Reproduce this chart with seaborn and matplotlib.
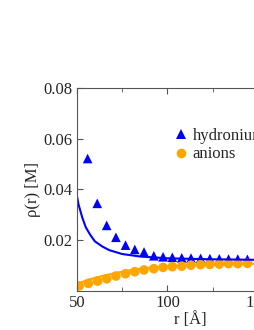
import matplotlib
matplotlib.use("Agg")
import matplotlib.pyplot as plt
import seaborn as sns
import pandas as pd
from matplotlib.ticker import MultipleLocator

# simulation points
r_hyd = [56.0, 61.3, 66.5, 71.6, 76.9, 82.0, 87.1, 92.5, 97.6, 102.7, 107.9,
         113.0, 118.3, 123.4, 128.6, 133.7, 138.8, 144.1]
rho_hyd = [0.0522, 0.0345, 0.0258, 0.0211, 0.0180, 0.0163, 0.0153, 0.0138,
           0.0134, 0.0132, 0.0130, 0.0129, 0.0128, 0.0127, 0.0126, 0.0125,
           0.0125, 0.0124]
r_ani = [51.3, 56.4, 61.5, 66.5, 71.6, 76.9, 82.0, 87.1, 92.5, 97.6, 102.7,
         107.9, 113.0, 118.3, 123.4, 128.6, 133.7, 138.8, 144.1]
rho_ani = [0.0019, 0.0029, 0.0038, 0.0047, 0.0058, 0.0067, 0.0075, 0.0082,
           0.0087, 0.0092, 0.0095, 0.0097, 0.0101, 0.0103, 0.0104, 0.0105,
           0.0107, 0.0107, 0.0108]

# theory curves
r_fit_hyd = [50, 51, 53, 55, 57.5, 60, 64, 68, 75, 85, 100, 125, 150, 175]
rho_fit_hyd = [0.0378, 0.0340, 0.0290, 0.0250, 0.0220, 0.0195, 0.0175, 0.0160,
               0.0145, 0.0135, 0.0128, 0.0124, 0.0122, 0.0121]
r_fit_ani = [50, 55, 60, 67, 76, 85, 100, 112, 125, 150, 175]
rho_fit_ani = [0.0027, 0.0040, 0.0051, 0.0063, 0.0077, 0.0087, 0.0097, 0.0101,
               0.0104, 0.0107, 0.0109]

pts = pd.concat([
    pd.DataFrame({'r': r_hyd, 'rho': rho_hyd, 'ion': 'hydronium'}),
    pd.DataFrame({'r': r_ani, 'rho': rho_ani, 'ion': 'anions'}),
])
fits = pd.concat([
    pd.DataFrame({'r': r_fit_hyd, 'rho': rho_fit_hyd, 'ion': 'hydronium'}),
    pd.DataFrame({'r': r_fit_ani, 'rho': rho_fit_ani, 'ion': 'anions'}),
])

sns.set_style("ticks")
plt.rcParams['font.family'] = ['Liberation Serif', 'DejaVu Serif']

pal = {'hydronium': '#0000ff', 'anions': '#ffa500'}

fig = plt.figure(figsize=(2.55, 3.3), dpi=100)
ax = fig.add_axes([0.301, 0.119, 0.889, 0.614])

sns.lineplot(data=fits, x='r', y='rho', hue='ion', palette=pal, lw=1.5,
             legend=False, ax=ax)
sns.scatterplot(data=pts, x='r', y='rho', hue='ion', style='ion',
                markers={'hydronium': '^', 'anions': 'o'}, palette=pal,
                s=48, linewidth=0, ax=ax)

ax.set_xlim(50, 175)
ax.set_ylim(0, 0.08)
ax.xaxis.set_major_locator(MultipleLocator(50))
ax.xaxis.set_minor_locator(MultipleLocator(25))
ax.set_yticks([0.02, 0.04, 0.06, 0.08])
ax.tick_params(direction='in', which='both', top=True, right=True,
               labelsize=12, pad=3, color='#555555')
ax.tick_params(which='major', length=4)
ax.tick_params(which='minor', length=3)
for s in ax.spines.values():
    s.set_color('#555555')
    s.set_linewidth(0.8)

ax.set_xlabel('r [Å]', fontsize=12, labelpad=1)
ax.set_ylabel('ρ(r) [M]', fontsize=12, labelpad=2)

h, l = ax.get_legend_handles_labels()
ax.legend(h, l, loc='center left', bbox_to_anchor=(0.637, 0.56),
          bbox_transform=fig.transFigure, frameon=False, fontsize=12,
          handletextpad=0.1, labelspacing=0.15, borderpad=0, handlelength=1.2)

fig.savefig('out.png', dpi=100)
